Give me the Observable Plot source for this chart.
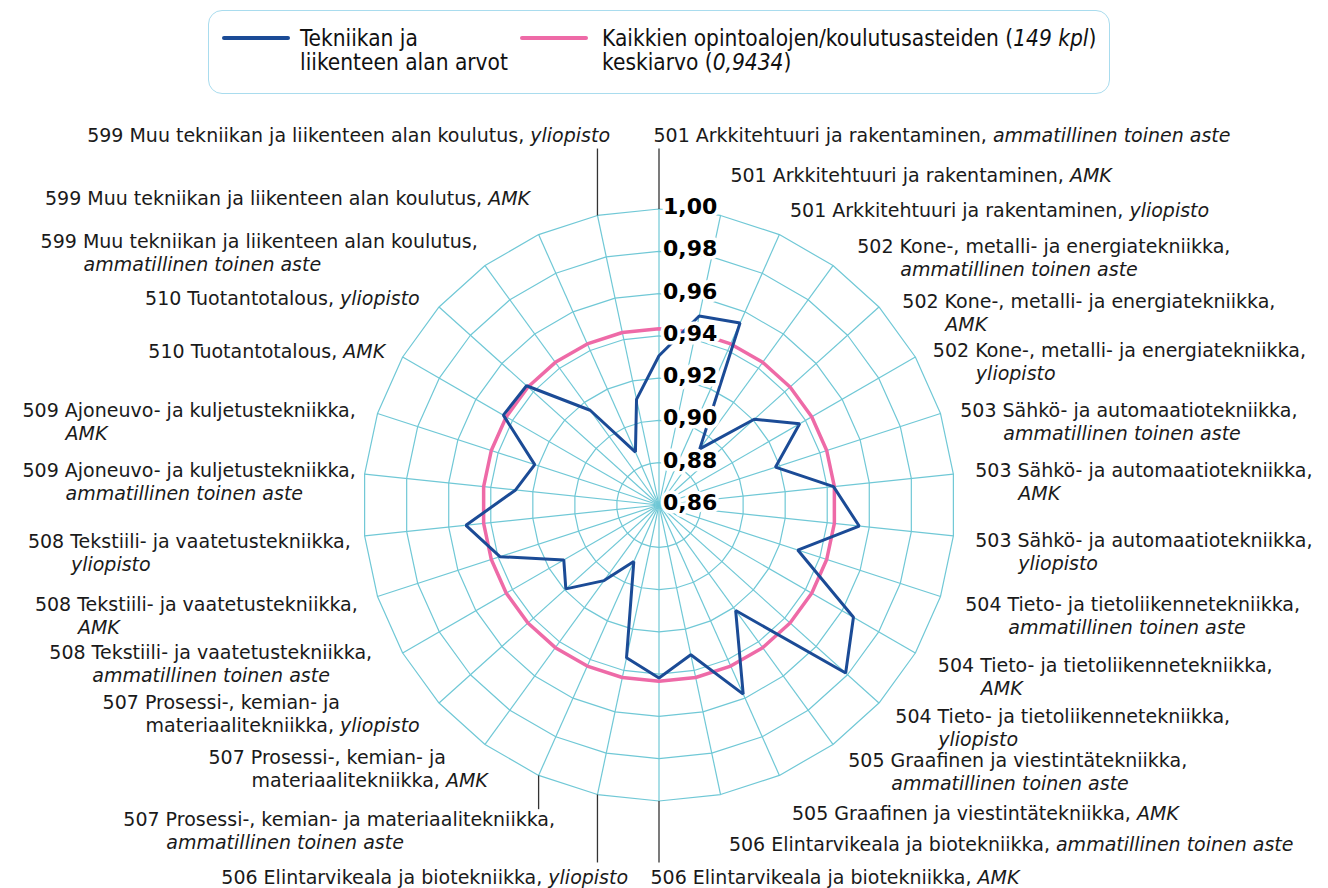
<!DOCTYPE html>
<html>
<head>
<meta charset="utf-8">
<script src="https://cdn.jsdelivr.net/npm/d3@7"></script>
<script src="https://cdn.jsdelivr.net/npm/@observablehq/plot@0.6"></script>
<style>
  body { margin: 0; background: #fff; }
  #wrap { position: relative; width: 1328px; height: 888px; overflow: hidden; }
  #chart { position: absolute; left: 0; top: 0; }
  #legend { position: absolute; left: 208px; top: 10px; width: 902px; height: 84px;
    border: 1.5px solid #a9dcee; border-radius: 14px; box-sizing: border-box; background: #fff;
    font-family: "DejaVu Sans Condensed", "DejaVu Sans", sans-serif; font-size: 22.5px; color: #111; }
  .sw { position: absolute; top: 25px; width: 68px; height: 4px; border-radius: 2px; }
  .lt { position: absolute; top: 15px; line-height: 24px; white-space: nowrap; }
</style>
</head>
<body>
<div id="wrap">
  <div id="chart"></div>
  <div id="legend">
    <div class="sw" style="left:13px;background:#1b4b96"></div>
    <div class="lt" style="left:91px">Tekniikan ja<br>liikenteen alan arvot</div>
    <div class="sw" style="left:311px;background:#ee6aa7"></div>
    <div class="lt" style="left:393px">Kaikkien opintoalojen/koulutusasteiden (<i>149 kpl</i>)<br>keskiarvo (<i>0,9434</i>)</div>
  </div>
</div>
<script>
// ---------------- DATA ----------------
const categories = [
  "501 Arkkitehtuuri ja rakentaminen, ammatillinen toinen aste",
  "501 Arkkitehtuuri ja rakentaminen, AMK",
  "501 Arkkitehtuuri ja rakentaminen, yliopisto",
  "502 Kone-, metalli- ja energiatekniikka,\nammatillinen toinen aste",
  "502 Kone-, metalli- ja energiatekniikka,\nAMK",
  "502 Kone-, metalli- ja energiatekniikka,\nyliopisto",
  "503 Sähkö- ja automaatiotekniikka,\nammatillinen toinen aste",
  "503 Sähkö- ja automaatiotekniikka,\nAMK",
  "503 Sähkö- ja automaatiotekniikka,\nyliopisto",
  "504 Tieto- ja tietoliikennetekniikka,\nammatillinen toinen aste",
  "504 Tieto- ja tietoliikennetekniikka,\nAMK",
  "504 Tieto- ja tietoliikennetekniikka,\nyliopisto",
  "505 Graafinen ja viestintätekniikka,\nammatillinen toinen aste",
  "505 Graafinen ja viestintätekniikka, AMK",
  "506 Elintarvikeala ja biotekniikka, ammatillinen toinen aste",
  "506 Elintarvikeala ja biotekniikka, AMK",
  "506 Elintarvikeala ja biotekniikka, yliopisto",
  "507 Prosessi-, kemian- ja materiaalitekniikka,\nammatillinen toinen aste",
  "507 Prosessi-, kemian- ja\nmateriaalitekniikka, AMK",
  "507 Prosessi-, kemian- ja\nmateriaalitekniikka, yliopisto",
  "508 Tekstiili- ja vaatetustekniikka,\nammatillinen toinen aste",
  "508 Tekstiili- ja vaatetustekniikka,\nAMK",
  "508 Tekstiili- ja vaatetustekniikka,\nyliopisto",
  "509 Ajoneuvo- ja kuljetustekniikka,\nammatillinen toinen aste",
  "509 Ajoneuvo- ja kuljetustekniikka,\nAMK",
  "510 Tuotantotalous, AMK",
  "510 Tuotantotalous, yliopisto",
  "599 Muu tekniikan ja liikenteen alan koulutus,\nammatillinen toinen aste",
  "599 Muu tekniikan ja liikenteen alan koulutus, AMK",
  "599 Muu tekniikan ja liikenteen alan koulutus, yliopisto"
];
const levels = [
  "ammatillinen toinen aste", "AMK", "yliopisto",
  "ammatillinen toinen aste", "AMK", "yliopisto",
  "ammatillinen toinen aste", "AMK", "yliopisto",
  "ammatillinen toinen aste", "AMK", "yliopisto",
  "ammatillinen toinen aste", "AMK",
  "ammatillinen toinen aste", "AMK", "yliopisto",
  "ammatillinen toinen aste", "AMK", "yliopisto",
  "ammatillinen toinen aste", "AMK", "yliopisto",
  "ammatillinen toinen aste", "AMK",
  "AMK", "yliopisto",
  "ammatillinen toinen aste", "AMK", "yliopisto"
];
const values = [
  0.9306, 0.9514, 0.9542, 0.8928, 0.9206, 0.9368, 0.9179, 0.9430, 0.9552, 0.9290,
  0.9662, 0.9788, 0.9217, 0.9579, 0.9324, 0.9418, 0.9339, 0.8893, 0.9042, 0.9193,
  0.9120, 0.9391, 0.9518, 0.9282, 0.9218, 0.9450, 0.9443, 0.9154, 0.8874, 0.9111
];
const averageValue = 0.9434;
const ringTicks = [0.86, 0.88, 0.90, 0.92, 0.94, 0.96, 0.98, 1.00];
const tickLabels = ["0,86", "0,88", "0,90", "0,92", "0,94", "0,96", "0,98", "1,00"];

// ---------------- LAYOUT ----------------
const W = 1328, H = 888, CX = 658.5, CY = 504.5, R = 296;
const rMin = 0.86, rMax = 1.00;
const k = R / (rMax - rMin);           // px per value unit
const px = p => p / k;                 // pixels -> data units
const n = categories.length;
const ang = i => i * 2 * Math.PI / n;
const polar = (v, i) => [(v - rMin) * Math.sin(ang(i)), (v - rMin) * Math.cos(ang(i))];
const LABEL_R = 322, INDENT = 43, LINE_H = 23, FONT = 19;
const nudge = { // px offsets [dx, dy(down)] for crowded labels
  0: [-5.5, -47.5], 1: [4.5, -14.5], 3: [9, 2], 4: [4, 12], 5: [-5, 7], 6: [-5, 5],
  7: [-4, 0], 8: [-4, 2], 11: [-3, -4], 12: [0, -5], 13: [2, 15], 14: [3, 25], 15: [-8.5, 50.5],
  16: [36, 57.5], 17: [27, 21], 18: [18, -8], 19: [0, -18], 20: [-8, -13], 21: [5, 0],
  22: [12, 3], 23: [17, 0], 24: [3, 5], 25: [5, 8], 26: [0, 9], 27: [8, -3], 28: [2, -12], 29: [18, -54.5]
};

const ctx = document.createElement("canvas").getContext("2d");
const measure = (s, it) => { ctx.font = `${it ? "italic " : ""}${FONT}px "DejaVu Sans"`; return ctx.measureText(s).width; };

const labelData = categories.map((c, i) => {
  const lv = levels[i];
  const lines = c.split("\n").map(ln => (ln.endsWith(lv)
    ? [{text: ln.slice(0, ln.length - lv.length), italic: false}, {text: lv, italic: true}]
    : [{text: ln, italic: false}]).filter(s => s.text.length > 0));
  const widths = lines.map((segs, li) => (li ? INDENT : 0) + d3.sum(segs, s => measure(s.text, s.italic)));
  const blockW = d3.max(widths);
  const right = i <= 15;
  const [ax, ay] = polar(rMin + px(LABEL_R), i);
  const [ndx, ndy] = nudge[i] || [0, 0];
  let x = ax + px(ndx);
  const y = ay - px(ndy);
  if (!right) x -= px(blockW);
  return {i, lines, x, y, first: lines[0].map(s => s.text).join("")};
});

const seriesPts = values.map((v, i) => { const [x, y] = polar(v, i); return {x, y}; });
const avgPts = values.map((_, i) => { const [x, y] = polar(averageValue, i); return {x, y}; });
const ringPts = ringTicks.slice(1).flatMap(t => d3.range(n).map(i => { const [x, y] = polar(t, i); return {ring: t, x, y}; }));
const spokes = d3.range(n).map(i => { const [x, y] = polar(rMax, i); return {x, y}; });
// leader lines: from the spoke end to just short of the moved label (offset in px, down positive)
const leaders = [[0, 13], [29, 13], [15, -15], [16, -15], [17, -11]].map(([i, off]) => {
  const [x, y] = polar(rMax, i);
  return {x, y1: y, y2: labelData[i].y - px(off)};
});

const GRID = "#70c8d6";
const svg = Plot.plot({
  width: W, height: H, margin: 0,
  x: {domain: [-CX / k, (W - CX) / k], range: [0, W], axis: null},
  y: {domain: [-(H - CY) / k, CY / k], range: [H, 0], axis: null},
  style: {background: "transparent", overflow: "visible"},
  marks: [
    Plot.line(ringPts, {x: "x", y: "y", z: "ring", curve: "linear-closed", stroke: GRID, strokeWidth: 1.2}),
    Plot.link(spokes, {x1: 0, y1: 0, x2: "x", y2: "y", stroke: GRID, strokeWidth: 1.2}),
    Plot.link(leaders, {x1: "x", x2: "x", y1: "y1", y2: "y2", stroke: "#333", strokeWidth: 1.3}),
    Plot.line(avgPts, {x: "x", y: "y", curve: "linear-closed", stroke: "#ee6aa7", strokeWidth: 3.5, strokeLinejoin: "miter"}),
    Plot.line(seriesPts, {x: "x", y: "y", curve: "linear-closed", stroke: "#1b4b96", strokeWidth: 3, strokeLinejoin: "miter"}),
    Plot.text(ringTicks, {x: 0, y: d => d - rMin, text: (d, i) => tickLabels[i], textAnchor: "start", lineAnchor: "middle",
      dx: 4, dy: -2, fontSize: 22, fontWeight: "bold", fontFamily: "DejaVu Sans", fill: "#000",
      stroke: "#fff", strokeWidth: 7, strokeLinejoin: "round"}),
    Plot.text(labelData, {x: "x", y: "y", text: "first", textAnchor: "start", lineAnchor: "middle",
      fontSize: FONT, fontFamily: "DejaVu Sans", fill: "#1a1a1a"})
  ]
});
document.getElementById("chart").append(svg);

// rich text: italic level names and indented second lines
const NS = "http://www.w3.org/2000/svg";
const groups = svg.querySelectorAll('g[aria-label="text"]');
const catTexts = groups[groups.length - 1].querySelectorAll("text");
catTexts.forEach((el, j) => {
  const d = labelData[j];
  const bx = el.hasAttribute("x") ? +el.getAttribute("x") : 0;
  el.textContent = "";
  el.style.whiteSpace = "pre";
  d.lines.forEach((segs, li) => {
    segs.forEach((s, si) => {
      const t = document.createElementNS(NS, "tspan");
      if (li > 0 && si === 0) { t.setAttribute("x", bx + INDENT); t.setAttribute("dy", LINE_H); }
      if (s.italic) t.setAttribute("font-style", "italic");
      t.textContent = s.text;
      el.append(t);
    });
  });
});
</script>
</body>
</html>
